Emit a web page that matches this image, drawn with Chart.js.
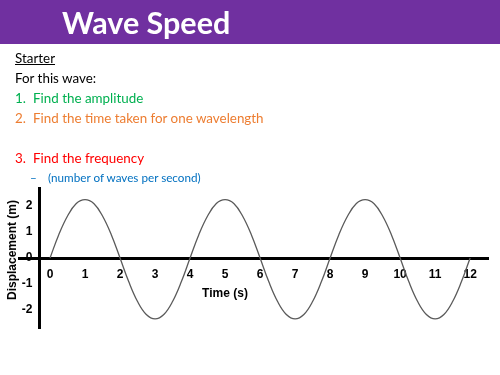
<!DOCTYPE html>
<html>
<head>
<meta charset="utf-8">
<script src="https://cdn.jsdelivr.net/npm/chart.js@4.4.1/dist/chart.umd.min.js"></script>
<style>
    html, body { margin: 0; padding: 0; background: #fff; }
    #slide { position: relative; width: 500px; height: 375px; overflow: hidden; font-family: Lato, "Open Sans", sans-serif; }
    #chartBox { position: absolute; left: 0; top: 0; width: 500px; height: 375px; }
    #bar { position: absolute; left: 0; top: 0; width: 500px; height: 44px; background: #7030a0; }
    #bar h1 { position: absolute; left: 62px; top: 0; margin: 0; line-height: 44px; font-size: 30.5px; font-weight: 700; color: #fff; }
    .txt { position: absolute; left: 15px; font-size: 13.4px; line-height: 20px; white-space: nowrap; color: #000; }
    .txt .num { display: inline-block; width: 18px; }
    .sub { position: absolute; left: 30px; font-size: 11.7px; line-height: 16px; white-space: nowrap; color: #0070c0; }
    .sub .dash { display: inline-block; width: 18px; }
    .axisTitle { position: absolute; font-family: "Liberation Sans", Arial, sans-serif; font-weight: 700; font-size: 12px; line-height: 14px; white-space: nowrap; color: #000; }
</style>
</head>
<body>
<div id="slide">
    <div id="chartBox"><canvas id="wave"></canvas></div>
    <div id="bar"><h1>Wave Speed</h1></div>
    <div class="txt" style="top:48px; text-decoration: underline;">Starter</div>
    <div class="txt" style="top:68px;">For this wave:</div>
    <div class="txt" style="top:88px; color:#00b050;"><span class="num">1.</span>Find the amplitude</div>
    <div class="txt" style="top:108px; color:#ed7d31;"><span class="num">2.</span>Find the time taken for one wavelength</div>
    <div class="txt" style="top:148px; color:#ff0000;"><span class="num">3.</span>Find the frequency</div>
    <div class="sub" style="top:169px;"><span class="dash">–</span>(number of waves per second)</div>
    <div class="axisTitle" style="left:225px; top:293px; transform: translate(-50%, -50%);">Time (s)</div>
    <div class="axisTitle" style="left:12px; top:250px; transform: translate(-50%, -50%) rotate(-90deg);">Displacement (m)</div>
</div>
<script>
const times = [
    0, 0.25, 0.5, 0.75, 1, 1.25, 1.5, 1.75, 2, 2.25, 2.5, 2.75, 3, 3.25, 3.5, 3.75,
    4, 4.25, 4.5, 4.75, 5, 5.25, 5.5, 5.75, 6, 6.25, 6.5, 6.75, 7, 7.25, 7.5, 7.75,
    8, 8.25, 8.5, 8.75, 9, 9.25, 9.5, 9.75, 10, 10.25, 10.5, 10.75, 11, 11.25, 11.5, 11.75,
    12,
];
const displacement = [
    0, 0.9, 1.62, 2.1, 2.25, 2.1, 1.62, 0.9, 0, -0.92, -1.68, -2.18, -2.35, -2.18, -1.68, -0.92,
    0, 0.9, 1.62, 2.1, 2.25, 2.1, 1.62, 0.9, 0, -0.92, -1.68, -2.18, -2.35, -2.18, -1.68, -0.92,
    0, 0.9, 1.62, 2.1, 2.25, 2.1, 1.62, 0.9, 0, -0.92, -1.68, -2.18, -2.35, -2.18, -1.68, -0.92,
    0,
];
const timeTicks = [0, 1, 2, 3, 4, 5, 6, 7, 8, 9, 10, 11, 12];
const displacementTicks = [-2, -1, 0, 1, 2];

const tickFont = { family: '"Liberation Sans", Arial, sans-serif', weight: 'bold', size: 12 };

new Chart(document.getElementById('wave'), {
    type: 'line',
    data: {
        datasets: [{
            data: times.map((t, i) => ({ x: t, y: displacement[i] })),
            borderColor: '#5a5a5a',
            borderWidth: 1.3,
            pointRadius: 0,
            tension: 0.4,
            fill: false,
        }],
    },
    options: {
        responsive: true,
        maintainAspectRatio: false,
        animation: false,
        layout: { padding: { left: 19, right: 12, top: 188, bottom: 47 } },
        plugins: { legend: { display: false }, tooltip: { enabled: false } },
        scales: {
            x: {
                type: 'linear',
                min: -0.886,
                max: 12.51,
                position: { y: 0 },
                grid: { display: false, drawTicks: false },
                border: { display: true, width: 3, color: '#000' },
                afterBuildTicks: (scale) => { scale.ticks = timeTicks.map((v) => ({ value: v })); },
                ticks: { color: '#000', font: tickFont, padding: 9, autoSkip: false, maxRotation: 0 },
            },
            y: {
                type: 'linear',
                min: -2.7,
                max: 2.7,
                position: { x: -0.314 },
                grid: { display: false, drawTicks: false },
                border: { display: true, width: 3, color: '#000' },
                afterBuildTicks: (scale) => { scale.ticks = displacementTicks.map((v) => ({ value: v })); },
                // padding is ignored for a value-positioned axis, so push labels off the line
                ticks: { color: '#000', font: tickFont, callback: (v) => v + '  ' },
            },
        },
    },
});
</script>
</body>
</html>
